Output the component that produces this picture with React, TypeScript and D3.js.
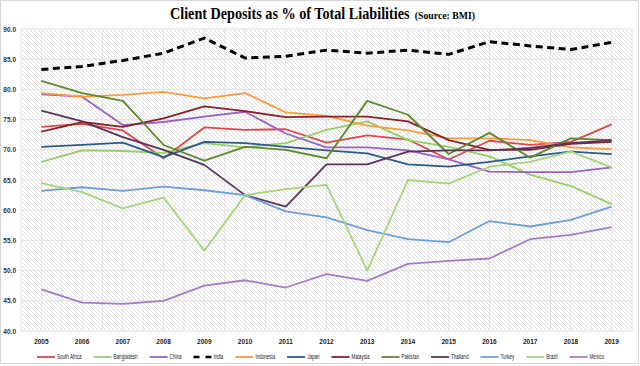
import React, { useRef, useEffect } from 'react';
import * as d3 from 'd3';

const years = ['2005', '2006', '2007', '2008', '2009', '2010', '2011', '2012', '2013', '2014', '2015', '2016', '2017', '2018', '2019'];
const yTicks = [40, 45, 50, 55, 60, 65, 70, 75, 80, 85, 90];

const southAfrica = [73.8, 74.3, 73.2, 68.6, 73.7, 73.3, 73.4, 71.2, 72.4, 71.7, 68.4, 71.5, 70.8, 71.3, 74.2];
const bangladesh = [68.0, 69.9, 69.8, 69.5, 71.1, 70.4, 71.1, 73.3, 74.7, 71.6, 70.5, 68.9, 65.9, 64.0, 61.0];
const china = [79.2, 78.8, 74.1, 74.6, 75.5, 76.3, 72.7, 70.4, 70.4, 69.9, 68.4, 66.4, 66.3, 66.3, 67.1];
const india = [83.3, 83.8, 84.8, 86.0, 88.5, 85.2, 85.5, 86.5, 86.0, 86.5, 85.8, 87.9, 87.2, 86.6, 87.8];
const indonesia = [79.4, 78.8, 79.1, 79.6, 78.5, 79.4, 76.2, 75.6, 74.0, 73.2, 71.9, 71.9, 71.6, 70.4, 70.1];
const japan = [70.5, 70.8, 71.2, 68.8, 71.3, 71.1, 70.5, 69.9, 69.4, 67.6, 67.2, 68.0, 68.9, 69.7, 69.3];
const malaysia = [73.0, 74.6, 73.8, 75.2, 77.2, 76.4, 75.4, 75.5, 75.5, 74.7, 71.6, 70.0, 70.0, 71.0, 71.3];
const pakistan = [81.4, 79.4, 78.1, 70.8, 68.2, 70.5, 70.0, 68.6, 78.1, 75.8, 69.3, 72.8, 68.7, 71.9, 71.6];
const thailand = [76.5, 74.7, 72.1, 70.0, 67.5, 62.5, 60.6, 67.6, 67.6, 69.7, 69.9, 69.9, 70.3, 71.1, 71.6];
const turkey = [63.2, 63.8, 63.2, 63.9, 63.3, 62.5, 59.8, 58.8, 56.7, 55.2, 54.7, 58.2, 57.3, 58.4, 60.6];
const brazil = [64.5, 63.0, 60.3, 62.1, 53.3, 62.5, 63.5, 64.2, 50.0, 65.0, 64.4, 67.2, 68.0, 69.7, 67.1];
const mexico = [46.9, 44.7, 44.5, 45.0, 47.5, 48.4, 47.2, 49.4, 48.3, 51.1, 51.6, 52.0, 55.2, 55.9, 57.2];

const series = [
  { name: 'South Africa', values: southAfrica, color: '#e0474b' },
  { name: 'Bangladesh', values: bangladesh, color: '#97cf63' },
  { name: 'China', values: china, color: '#9a62c4' },
  { name: 'India', values: india, color: '#000000', dashed: true },
  { name: 'Indonesia', values: indonesia, color: '#ff9a3a' },
  { name: 'Japan', values: japan, color: '#2d5a8c' },
  { name: 'Malaysia', values: malaysia, color: '#8c2226' },
  { name: 'Pakistan', values: pakistan, color: '#5e8a2f' },
  { name: 'Thailand', values: thailand, color: '#5a345d' },
  { name: 'Turkey', values: turkey, color: '#6e9fd8' },
  { name: 'Brazil', values: brazil, color: '#a6d67a' },
  { name: 'Mexico', values: mexico, color: '#a77cc6' },
];

export default function App() {
  const svgRef = useRef<SVGSVGElement>(null);

  useEffect(() => {
    const W = 640, H = 366;
    const svg = d3.select(svgRef.current);
    svg.selectAll('*').remove();

    const plot = { left: 21, right: 632, top: 29, bottom: 331 };

    const x = d3.scaleBand().domain(years).range([plot.left, plot.right]);
    const cx = (yr: string) => (x(yr) as number) + x.bandwidth() / 2;
    const y = d3.scaleLinear().domain([40, 90]).range([plot.bottom, plot.top]);

    // hatched background
    const defs = svg.append('defs');
    const pat = defs.append('pattern')
      .attr('id', 'hatch')
      .attr('patternUnits', 'userSpaceOnUse')
      .attr('width', 4)
      .attr('height', 4);
    pat.append('rect').attr('width', 4).attr('height', 4).attr('fill', '#ffffff');
    pat.append('path').attr('d', 'M-1,-1 L5,5 M-1,3 L1,5 M3,-1 L5,1')
      .attr('stroke', '#d8d8d8').attr('stroke-width', 0.8);

    svg.append('rect')
      .attr('x', 0.5).attr('y', 0.5).attr('width', W - 2).attr('height', H - 3)
      .attr('fill', '#fff').attr('stroke', '#d6d6d6');

    svg.append('rect')
      .attr('x', plot.left).attr('y', plot.top)
      .attr('width', plot.right - plot.left).attr('height', plot.bottom - plot.top)
      .attr('fill', 'url(#hatch)');

    // vertical grid (band edges and centers)
    const vlines: number[] = [];
    years.forEach(yr => {
      vlines.push(x(yr) as number);
      vlines.push(cx(yr));
    });
    vlines.push(plot.right);
    svg.append('g').selectAll('line').data(vlines).enter().append('line')
      .attr('x1', d => d).attr('x2', d => d)
      .attr('y1', plot.top).attr('y2', plot.bottom)
      .attr('stroke', '#e4e4e4').attr('stroke-width', 1);

    // horizontal grid
    svg.append('g').selectAll('line').data(yTicks).enter().append('line')
      .attr('x1', plot.left).attr('x2', plot.right)
      .attr('y1', d => y(d)).attr('y2', d => y(d))
      .attr('stroke', '#e4e4e4').attr('stroke-width', 1.2);

    // y labels
    svg.append('g').selectAll('text').data(yTicks).enter().append('text')
      .attr('x', 16).attr('y', d => y(d) + 2.5)
      .attr('text-anchor', 'end')
      .style('font-family', 'Liberation Sans, Arial, sans-serif')
      .style('font-size', '6.5px').style('font-weight', '700').style('fill', '#333')
      .text(d => d.toFixed(1));

    // x labels
    svg.append('g').selectAll('text').data(years).enter().append('text')
      .attr('x', d => cx(d)).attr('y', 344)
      .attr('text-anchor', 'middle')
      .style('font-family', 'Liberation Sans, Arial, sans-serif')
      .style('font-size', '6.5px').style('font-weight', '700').style('fill', '#222')
      .text(d => d);

    // lines
    const line = d3.line<number>()
      .x((_, i) => cx(years[i]))
      .y(d => y(d));

    svg.append('g').selectAll('path').data(series).enter().append('path')
      .attr('d', d => line(d.values))
      .attr('fill', 'none')
      .attr('stroke', d => d.color)
      .attr('stroke-width', d => (d.dashed ? 3 : 1.8))
      .attr('stroke-dasharray', d => (d.dashed ? '7 4.5' : null))
      .attr('stroke-linejoin', 'round');

    // title: one text, squeezed horizontally to the reference's condensed look
    const titleG = svg.append('g');
    const title = titleG.append('text')
      .attr('x', 0).attr('y', 0)
      .style('font-family', 'Liberation Serif, Times New Roman, serif')
      .style('font-weight', '700').style('fill', '#000');
    title.append('tspan').style('font-size', '16px').text('Client Deposits as % of Total Liabilities');
    title.append('tspan').style('font-size', '11px').attr('dx', 6).text('(Source: BMI)');
    const tw = (title.node() as SVGTextElement).getComputedTextLength();
    const sx = 300 / tw;
    titleG.attr('transform', `translate(170,19) scale(${sx},1)`);

    // legend
    const legend = svg.append('g');
    const ly = 357;
    const texts = series.map(s => legend.append('text')
      .attr('y', ly + 2.2)
      .style('font-family', 'Liberation Sans, Arial, sans-serif')
      .style('font-size', '6.5px').style('fill', '#222')
      .text(s.name));
    const widths = texts.map(t => (t.node() as SVGTextElement).getComputedTextLength());
    const target = 195;
    const k = target / d3.sum(widths);
    let lx = 37;
    series.forEach((s, i) => {
      legend.append('line')
        .attr('x1', lx).attr('x2', lx + 18).attr('y1', ly).attr('y2', ly)
        .attr('stroke', s.color)
        .attr('stroke-width', s.dashed ? 2.5 : 1.8)
        .attr('stroke-dasharray', s.dashed ? '6 6' : null);
      const w = widths[i] * k;
      texts[i].attr('x', lx + 20).attr('textLength', w).attr('lengthAdjust', 'spacingAndGlyphs');
      lx += 20 + w + 12;
    });
  }, []);

  return (
    <svg ref={svgRef} width={640} height={366} style={{ display: 'block', position: 'absolute', left: 0, top: 0 }} />
  );
}
